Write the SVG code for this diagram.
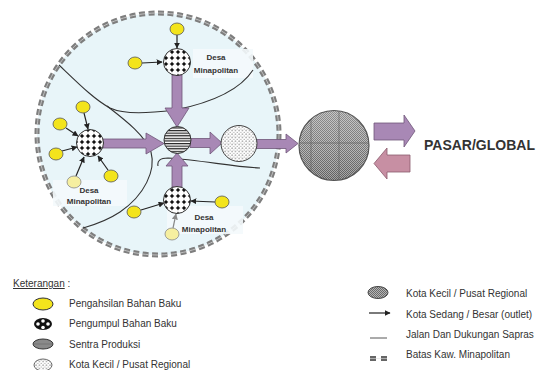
<svg xmlns="http://www.w3.org/2000/svg" width="545" height="370" viewBox="0 0 545 370">
<defs>
<pattern id="pDots" width="6" height="6" patternUnits="userSpaceOnUse" x="1" y="1">
<rect width="6" height="6" fill="#fff"/>
<path d="M3,0.6 L3.9,2.1 L5.4,3 L3.9,3.9 L3,5.4 L2.1,3.9 L0.6,3 L2.1,2.1Z" fill="#111"/>
</pattern>
<pattern id="pStripe" width="4" height="2.6" patternUnits="userSpaceOnUse">
<rect width="4" height="2.6" fill="#fff"/>
<rect width="4" height="1.2" fill="#222"/>
</pattern>
<pattern id="pSpeck" width="3.5" height="3.5" patternUnits="userSpaceOnUse">
<rect width="3.5" height="3.5" fill="#fff"/>
<circle cx="1" cy="1" r="0.55" fill="#333"/>
<circle cx="2.75" cy="2.75" r="0.45" fill="#555"/>
</pattern>
<pattern id="pCheck" width="2" height="2" patternUnits="userSpaceOnUse">
<rect width="2" height="2" fill="#b4b4b4"/>
<rect width="1" height="1" fill="#6a6a6a"/>
<rect x="1" y="1" width="1" height="1" fill="#6a6a6a"/>
</pattern>
<linearGradient id="gShade" x1="0" y1="0" x2="0" y2="1">
<stop offset="0" stop-color="#fff" stop-opacity="0.25"/>
<stop offset="0.5" stop-color="#fff" stop-opacity="0.1"/>
<stop offset="1" stop-color="#000" stop-opacity="0.1"/>
</linearGradient>
<marker id="ah" viewBox="0 0 10 10" refX="9" refY="5" markerWidth="6" markerHeight="6" orient="auto" markerUnits="userSpaceOnUse">
<path d="M0,0 L10,5 L0,10Z" fill="#222"/>
</marker>
<marker id="ahg" viewBox="0 0 10 10" refX="9" refY="5" markerWidth="6" markerHeight="6" orient="auto" markerUnits="userSpaceOnUse">
<path d="M0,0 L10,5 L0,10Z" fill="#888"/>
</marker>
</defs>
<style>
.y{fill:#f3e41c;stroke:#555;stroke-width:0.8}
.yp{fill:#f6efa0;stroke:#888;stroke-width:0.8}
.col{fill:url(#pDots);stroke:#333;stroke-width:1}
.fat{fill:#a888b5;stroke:#6f5579;stroke-width:0.8}
.pink{fill:#c78fa3;stroke:#8a5a6c;stroke-width:0.8}
.thin{stroke:#222;stroke-width:1.2;fill:none;marker-end:url(#ah)}
.road{fill:none;stroke:#333;stroke-width:1.1}
.lbl{font-family:"Liberation Sans",Arial,sans-serif;font-size:8px;font-weight:bold;fill:#333;text-anchor:middle}
.leg{font-family:"Liberation Sans",Arial,sans-serif;font-size:10px;fill:#333}
.lbox{fill:#f4fafc;opacity:0.9}
</style>
<rect width="545" height="370" fill="#fff"/>

<g id="boundary">
<circle cx="158" cy="134" r="121" fill="#e8f5f9"/>
<circle cx="158" cy="134" r="121" fill="none" stroke="#7e7e7e" stroke-width="5" stroke-dasharray="6 3.5"/>
<circle cx="158" cy="134" r="121" fill="none" stroke="#cfcfcf" stroke-width="0.8" stroke-dasharray="6 3.5"/>
</g>

<g id="label-boxes">
<rect class="lbox" x="193" y="49" width="60" height="29"/>
<rect class="lbox" x="53" y="180" width="74" height="26"/>
<rect class="lbox" x="167" y="206" width="76" height="28"/>
</g>

<g id="roads">
<path class="road" d="M59,65 C80,85 95,100 110,108 C125,115 150,113 175,110 C210,103 240,90 253,70"/>
<path class="road" d="M107,106 C125,120 145,135 151,152 C156,170 145,195 120,212 C105,222 90,226 83,228"/>
<path class="road" d="M158,166 C157,161 160,158 168,158 C200,160 235,167 260,168"/>
</g>

<g id="connectors">
<line class="thin" x1="177" y1="35" x2="177" y2="48"/>
<line class="thin" x1="142" y1="63" x2="162" y2="62"/>
<line class="thin" x1="84" y1="113" x2="88" y2="129"/>
<line class="thin" x1="66" y1="128" x2="78" y2="136"/>
<line class="thin" x1="62" y1="151" x2="77" y2="147"/>
<line class="thin" x1="76" y1="176" x2="84" y2="157"/>
<line class="thin" x1="108" y1="170" x2="98" y2="156"/>
<line class="thin" x1="141" y1="210" x2="164" y2="203"/>
<line class="thin" x1="215" y1="202" x2="191" y2="201"/>
<line x1="173" y1="228" x2="176" y2="214" stroke="#888" stroke-width="1.2" marker-end="url(#ahg)"/>
<polygon class="fat" points="103,139 146,139 146,133 164,143.5 146,154 146,148 103,148"/>
<polygon class="fat" points="172,75 182,75 182,108 189,108 177,127 165,108 172,108"/>
<polygon class="fat" points="172,187 182,187 182,166 188,166 177,153 166,166 172,166"/>
<polygon class="fat" points="190,138.5 210,138.5 210,132 222,143 210,154 210,147.5 190,147.5"/>
<polygon class="fat" points="256,139.5 286,139.5 286,134 298,143.5 286,153 286,148.5 256,148.5"/>
<polygon class="fat" points="374,123 404,123 404,115 415,131 404,147 404,140 374,140"/>
<polygon class="pink" points="410,155 387,155 387,148 374,163.5 387,179 387,172 410,172"/>
</g>

<g id="producers">
<ellipse class="y" cx="177" cy="29" rx="7" ry="6"/>
<ellipse class="y" cx="135" cy="63" rx="7" ry="6"/>
<ellipse class="y" cx="83" cy="107" rx="7" ry="6"/>
<ellipse class="y" cx="60" cy="124" rx="7" ry="6"/>
<ellipse class="y" cx="56" cy="154" rx="7" ry="6"/>
<ellipse class="yp" cx="74" cy="182" rx="7" ry="6"/>
<ellipse class="y" cx="111" cy="176" rx="7" ry="6"/>
<ellipse class="y" cx="134" cy="212" rx="7" ry="6"/>
<ellipse class="y" cx="222" cy="202" rx="7" ry="6"/>
<ellipse class="yp" cx="172" cy="234" rx="7" ry="6"/>
</g>

<g id="collector-top"><circle class="col" cx="177" cy="62" r="13.5"/></g>
<g id="collector-left"><circle class="col" cx="90" cy="143" r="13.5"/></g>
<g id="collector-bottom"><circle class="col" cx="177" cy="200" r="13.5"/></g>
<g id="sentra"><circle cx="177.5" cy="140" r="13.5" fill="url(#pStripe)" stroke="#333" stroke-width="1"/></g>
<g id="kota-kecil"><circle cx="239" cy="143.5" r="18" fill="url(#pSpeck)" stroke="#444" stroke-width="1"/></g>
<g id="kota-besar">
<circle cx="334" cy="145.5" r="35" fill="url(#pCheck)"/>
<circle cx="334" cy="145.5" r="35" fill="url(#gShade)" stroke="#555" stroke-width="1.2"/>
<line x1="311" y1="119" x2="311" y2="172" stroke="#666" stroke-width="0.7"/>
<line x1="339" y1="111" x2="339" y2="180" stroke="#666" stroke-width="0.7"/>
<line x1="299" y1="143" x2="369" y2="143" stroke="#666" stroke-width="0.7"/>
</g>

<g id="labels">
<text class="lbl" x="216" y="60">Desa</text>
<text class="lbl" x="216" y="73">Minapolitan</text>
<text class="lbl" x="89" y="193">Desa</text>
<text class="lbl" x="89" y="204">Minapolitan</text>
<text class="lbl" x="204" y="220">Desa</text>
<text class="lbl" x="204" y="232">Minapolitan</text>
<text x="424" y="150" font-family="Liberation Sans, Arial, sans-serif" font-size="14" font-weight="bold" fill="#333">PASAR/GLOBAL</text>
</g>

<g id="legend">
<text class="leg" x="13" y="287"><tspan text-decoration="underline">Keterangan</tspan> :</text>
<ellipse cx="43" cy="304" rx="10" ry="6" fill="#f3e41c" stroke="#333" stroke-width="1"/>
<text class="leg" x="69" y="307">Pengahsilan Bahan Baku</text>
<ellipse cx="43" cy="324" rx="9" ry="6" fill="#111"/>
<circle cx="43" cy="321" r="1.8" fill="#fff"/><circle cx="43" cy="327.5" r="1.8" fill="#fff"/>
<circle cx="38" cy="324" r="1.8" fill="#fff"/><circle cx="48" cy="324" r="1.8" fill="#fff"/>
<text class="leg" x="69" y="327">Pengumpul Bahan Baku</text>
<ellipse cx="43" cy="344" rx="10" ry="5" fill="#8a8a8a" stroke="#333" stroke-width="1"/>
<line x1="34" y1="344" x2="52" y2="344" stroke="#666" stroke-width="0.6"/>
<text class="leg" x="69" y="348">Sentra Produksi</text>
<ellipse cx="43" cy="365" rx="9" ry="6" fill="url(#pSpeck)" stroke="#555" stroke-width="0.9"/>
<text class="leg" x="69" y="368">Kota Kecil / Pusat Regional</text>

<ellipse cx="378" cy="292.5" rx="10" ry="6" fill="url(#pCheck)" stroke="#444" stroke-width="1"/>
<text class="leg" x="406" y="297">Kota Kecil / Pusat Regional</text>
<line x1="369" y1="313" x2="390" y2="313" stroke="#222" stroke-width="1.2" marker-end="url(#ah)"/>
<text class="leg" x="406" y="318">Kota Sedang / Besar (outlet)</text>
<line x1="370" y1="338" x2="387" y2="338" stroke="#444" stroke-width="0.9"/>
<text class="leg" x="406" y="338">Jalan Dan Dukungan Sapras</text>
<rect x="370" y="356" width="6" height="5" fill="#666"/>
<rect x="381" y="356" width="6" height="5" fill="#666"/>
<line x1="370" y1="358.5" x2="387" y2="358.5" stroke="#ddd" stroke-width="0.6"/>
<text class="leg" x="406" y="358">Batas Kaw. Minapolitan</text>
</g>
</svg>
